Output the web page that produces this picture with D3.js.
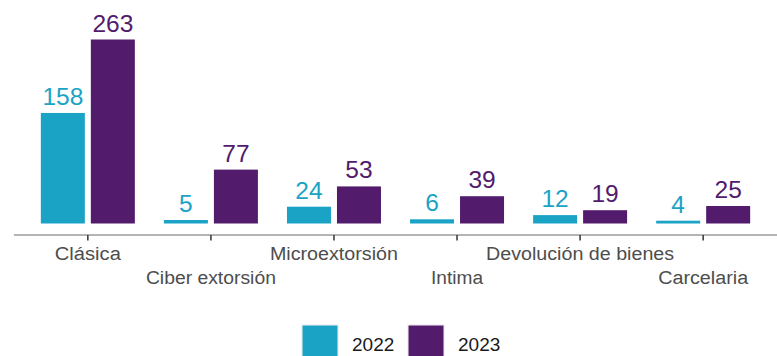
<!DOCTYPE html>
<html><head><meta charset="utf-8">
<script src="https://cdn.jsdelivr.net/npm/d3@7"></script>
<style>body{margin:0;background:#fff}svg{display:block;font-family:"Liberation Sans",Arial,sans-serif}</style>
</head><body><div id="chart"></div>
<script>
const categories = ["Clásica","Ciber extorsión","Microextorsión","Intima","Devolución de bienes","Carcelaria"];
const years = ["2022","2023"];
const values2022 = [158,5,24,6,12,4];
const values2023 = [263,77,53,39,19,25];
const colors = ["#1ba3c6","#521b6c"];

const W=777,H=356;
const svg=d3.select("#chart").append("svg").attr("width",W).attr("height",H);

const n=categories.length;
const xLin=d3.scaleLinear().domain([0.4, n+0.6]).range([14,777]);
const x=c=>xLin(categories.indexOf(c)+1);
const barW=44, off=25;
const y=d3.scaleLinear().domain([0,263]).range([223.5,39.5]);
const series=[values2022,values2023];

series.forEach((vals,si)=>{
  const g=svg.append("g");
  g.selectAll("rect").data(vals).enter().append("rect")
    .attr("x",(d,i)=>x(categories[i])+(si===0?-off:off)-barW/2)
    .attr("width",barW)
    .attr("y",d=>y(d)).attr("height",d=>y(0)-y(d))
    .attr("fill",colors[si]);
  g.selectAll("text").data(vals).enter().append("text")
    .attr("x",(d,i)=>x(categories[i])+(si===0?-off:off))
    .attr("y",d=>y(d)-8)
    .attr("text-anchor","middle")
    .attr("font-size","24.5px")
    .attr("fill",colors[si])
    .text(d=>d);
});

svg.append("line").attr("x1",14).attr("x2",777).attr("y1",235).attr("y2",235)
  .attr("stroke","#6b6b6b").attr("stroke-width",1.2);
svg.selectAll(".tick").data(categories).enter().append("line")
  .attr("x1",d=>x(d)).attr("x2",d=>x(d)).attr("y1",235).attr("y2",240.5)
  .attr("stroke","#333").attr("stroke-width",1.5);
svg.selectAll(".lab").data(categories).enter().append("text")
  .attr("x",d=>x(d)).attr("y",(d,i)=>i%2===0?260:284)
  .attr("text-anchor","middle").attr("font-size","17.6px").attr("fill","#4d4d4d")
  .attr("textLength",(d,i)=>[66,130,128,52,188,90][i]).attr("lengthAdjust","spacingAndGlyphs")
  .text(d=>d);

const leg=[{t:years[0],c:colors[0],x:301},{t:years[1],c:colors[1],x:407}];
leg.forEach(l=>{
  svg.append("rect").attr("x",l.x).attr("y",324).attr("width",38).attr("height",38).attr("fill","#f2f2f2");
  svg.append("rect").attr("x",l.x+1.5).attr("y",325.5).attr("width",35).attr("height",35).attr("fill",l.c);
  svg.append("text").attr("x",l.x+51).attr("y",351).attr("font-size","19px").attr("fill","#1a1a1a").text(l.t);
});
</script></body></html>
